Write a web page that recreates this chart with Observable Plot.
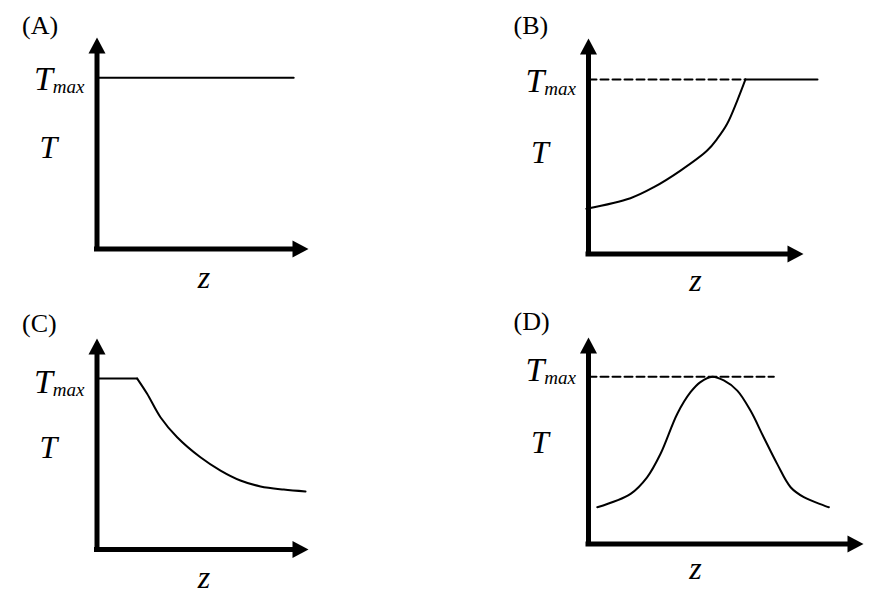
<!DOCTYPE html>
<html>
<head>
<meta charset="utf-8">
<script src="https://cdn.jsdelivr.net/npm/d3@7"></script>
<script src="https://cdn.jsdelivr.net/npm/@observablehq/plot@0.6"></script>
<style>
  html, body { margin: 0; padding: 0; background: #fff; }
  #fig { position: relative; width: 886px; height: 604px; overflow: hidden; background: #fff; }
  #fig svg { position: absolute; }
</style>
</head>
<body>
<div id="fig"></div>
<script>
// ---------- data ----------
const panelLabels = ["(A)", "(B)", "(C)", "(D)"];
const tmaxLabel = "Tmax";
const tLabel = "T";
const zLabel = "z";
const Tmax = 8.1;

// [z, T] pairs (z: 0..10 along the z axis to the arrow tip, T: 0..10 along the T axis)
const lineA = [[0, Tmax], [9.3, Tmax]];

const dashB = [[0, Tmax], [7.3, Tmax]];
const curveB = [[-0.1, 2.1], [1.95, 2.59], [3.04, 3.1], [4.28, 3.87], [5.52, 4.8], [5.99, 5.35], [6.45, 6.04], [6.92, 7.12], [7.3, Tmax]];
const flatB = [[7.3, Tmax], [10.65, Tmax]];

const flatC = [[0, Tmax], [1.9, Tmax]];
const curveC = [[1.9, Tmax], [2.37, 7.38], [3.0, 6.27], [3.79, 5.32], [4.89, 4.37], [5.84, 3.74], [6.78, 3.27], [7.73, 2.99], [8.83, 2.84], [9.86, 2.75]];

const dashD = [[0, Tmax], [6.74, Tmax]];
const curveD = [[0.32, 1.78], [1.53, 2.43], [2.13, 3.23], [2.62, 4.37], [3.23, 6.31], [3.71, 7.35], [4.07, 7.84], [4.5, Tmax], [4.92, 7.92], [5.41, 7.43], [5.89, 6.46], [6.37, 5.17], [6.86, 3.88], [7.35, 2.75], [7.83, 2.27], [8.74, 1.78]];

const panelStraight = [[lineA], [flatB], [flatC], []];
const panelCurves = [[], [curveB], [curveC], [curveD]];
const panelDashed = [[], [dashB], [], [dashD]];

// ---------- layout (pixels) ----------
const layout = [
  {left: 0,   top: 0,   ox: 96.5, oy: 248.5, tx: 308, ty: 37,  labelDy: -3.5, tmaxDy: 12,  zDy: 38.5},
  {left: 443, top: 0,   ox: 588,  oy: 253.5, tx: 803, ty: 38,  labelDy: -5,   tmaxDy: 13,  zDy: 36.5},
  {left: 0,   top: 302, ox: 96.5, oy: 549,   tx: 308, ty: 338, labelDy: -7,   tmaxDy: 14,  zDy: 38},
  {left: 443, top: 302, ox: 588,  oy: 543.5, tx: 863, ty: 337, labelDy: -8,   tmaxDy: 4.5, zDy: 34.5}
];
const W = 443, H = 302;

const arrowHead = {
  draw(ctx) {
    ctx.moveTo(0, 0);
    ctx.lineTo(8.5, 16);
    ctx.lineTo(-8.5, 16);
    ctx.closePath();
  }
};

const serif = "'Liberation Serif', 'Times New Roman', Times, serif";

function panel(i) {
  const L = layout[i];
  const line = (d) => Plot.line(d, {stroke: "black", strokeWidth: 2});
  const curve = (d) => Plot.line(d, {stroke: "black", strokeWidth: 2, curve: "catmull-rom"});
  const dash = (d) => Plot.line(d, {stroke: "black", strokeWidth: 2, strokeDasharray: "8,4"});
  const svg = Plot.plot({
    width: W,
    height: H,
    marginLeft: L.ox - L.left,
    marginRight: L.left + W - L.tx,
    marginTop: L.ty - L.top,
    marginBottom: L.top + H - L.oy,
    x: {domain: [0, 10], axis: null},
    y: {domain: [0, 10], axis: null},
    style: {fontFamily: serif, background: "transparent", overflow: "visible", color: "black"},
    marks: [
      ...panelDashed[i].map(dash),
      ...panelStraight[i].map(line),
      ...panelCurves[i].map(curve),
      // axes
      Plot.ruleX([0], {stroke: "black", strokeWidth: 5, insetTop: 14, insetBottom: -2.5}),
      Plot.ruleY([0], {stroke: "black", strokeWidth: 5, insetRight: 14, insetLeft: -2.5}),
      Plot.dot([0], {frameAnchor: "top-left", symbol: arrowHead, fill: "black", stroke: "none"}),
      Plot.dot([0], {frameAnchor: "bottom-right", symbol: arrowHead, rotate: 90, fill: "black", stroke: "none"}),
      // labels
      Plot.text([panelLabels[i]], {frameAnchor: "top-left", dx: -75, dy: L.labelDy, textAnchor: "start", lineAnchor: "bottom", fontSize: 26, fill: "black"}),
      Plot.text([tmaxLabel], {y: () => Tmax, frameAnchor: "left", dx: -12.5, dy: L.tmaxDy, textAnchor: "end", lineAnchor: "bottom", fontSize: 34, fontStyle: "italic", fill: "black"}),
      Plot.text([tLabel], {frameAnchor: "bottom-left", dx: -48.5, dy: -91.3, textAnchor: "middle", lineAnchor: "bottom", fontSize: 32, fontStyle: "italic", fill: "black"}),
      Plot.text([zLabel], {frameAnchor: "bottom-left", dx: 107, dy: L.zDy, textAnchor: "middle", lineAnchor: "bottom", fontSize: 32, fontStyle: "italic", fill: "black"})
    ]
  });
  // subscript for Tmax
  svg.querySelectorAll("text").forEach((t) => {
    if (t.textContent === tmaxLabel) {
      t.textContent = "";
      const ns = "http://www.w3.org/2000/svg";
      const a = document.createElementNS(ns, "tspan");
      a.textContent = "T";
      const b = document.createElementNS(ns, "tspan");
      b.textContent = "max";
      b.setAttribute("font-size", "19");
      b.setAttribute("dy", "3");
      t.appendChild(a);
      t.appendChild(b);
    }
  });
  svg.style.left = L.left + "px";
  svg.style.top = L.top + "px";
  return svg;
}

const fig = document.getElementById("fig");
for (let i = 0; i < 4; i++) fig.appendChild(panel(i));
</script>
</body>
</html>
